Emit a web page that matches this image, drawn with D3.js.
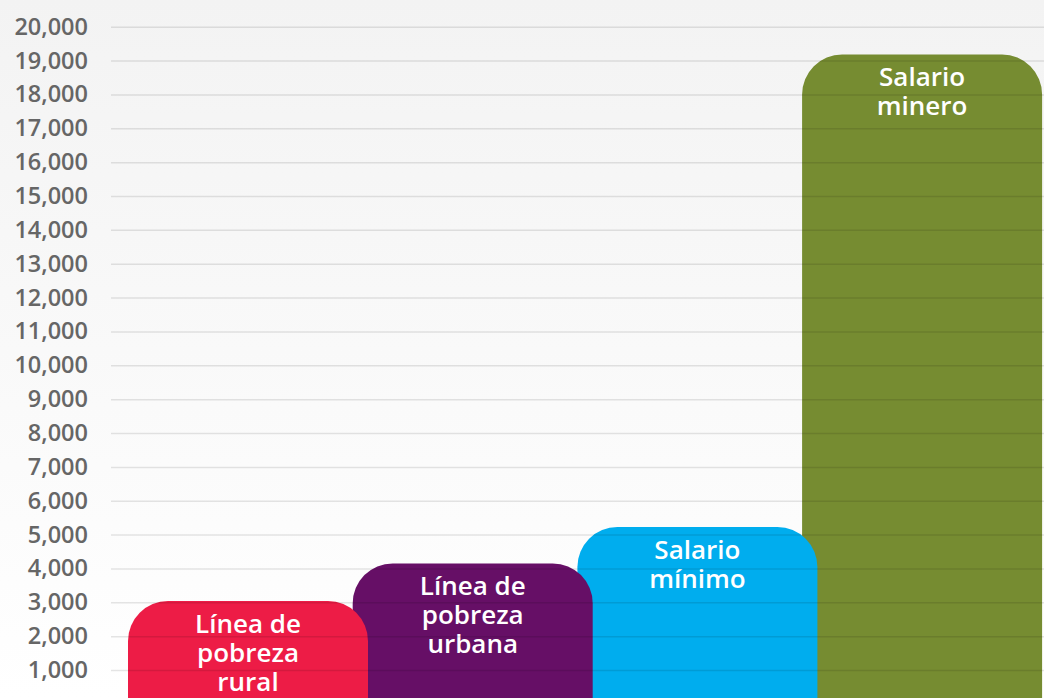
<!DOCTYPE html>
<html><head><meta charset="utf-8">
<script src="https://cdn.jsdelivr.net/npm/d3@7"></script>
<style>
html,body{margin:0;padding:0;overflow:hidden;}
svg{display:block;font-family:"Open Sans",sans-serif;}
</style></head>
<body>
<svg id="chart" width="1044" height="698"></svg>
<script>
const categories = ["rural", "urbana", "minimo", "minero"];
const values = [3040, 4150, 5225, 19180];
const labels = [["Línea de", "pobreza", "rural"], ["Línea de", "pobreza", "urbana"], ["Salario", "mínimo"], ["Salario", "minero"]];
const colors = ["#ed1c46", "#660f66", "#00adee", "#768c31"];
const tickValues = d3.range(1000, 20001, 1000);

const W = 1044, H = 698;
const svg = d3.select("#chart");
const defs = svg.append("defs");
const grad = defs.append("linearGradient").attr("id", "bg").attr("x1", 0).attr("y1", 0).attr("x2", 0).attr("y2", 1);
grad.append("stop").attr("offset", "0%").attr("stop-color", "#f3f3f3");
grad.append("stop").attr("offset", "100%").attr("stop-color", "#ffffff");
svg.append("rect").attr("width", W).attr("height", H).attr("fill", "url(#bg)");

const y = d3.scaleLinear().domain([0, 20000]).range([703.9, 26.7]);
const x = d3.scaleBand().domain(categories).range([128, 128 + 4 * 224.7]).padding(0);
const barW = x.bandwidth() + 15.3;
const r = 40;

function topRounded(x0, y0, w, yb, r) {
  const p = d3.path();
  p.moveTo(x0, yb);
  p.lineTo(x0, y0 + r);
  p.arcTo(x0, y0, x0 + r, y0, r);
  p.lineTo(x0 + w - r, y0);
  p.arcTo(x0 + w, y0, x0 + w, y0 + r, r);
  p.lineTo(x0 + w, yb);
  p.closePath();
  return p.toString();
}

const data = categories.map((c, i) => ({c, v: values[i], label: labels[i], color: colors[i]}));

// draw in reverse order so earlier bars are on top
const bars = svg.append("g").selectAll("g").data(data.slice().reverse()).join("g");
bars.append("path")
  .attr("d", d => topRounded(x(d.c), y(d.v), barW, H + 10, r))
  .attr("fill", d => d.color);
bars.append("text")
  .attr("text-anchor", "middle")
  .attr("fill", "#fff")
  .attr("font-size", 26)
  .attr("font-weight", 600)
  .selectAll("tspan").data(d => d.label.map((t, j) => ({t, j, d}))).join("tspan")
  .attr("x", o => x(o.d.c) + barW / 2)
  .attr("y", o => y(o.d.v) + 32 + o.j * 29)
  .text(o => o.t);

// grid lines on top
const axis = d3.axisLeft(y).tickValues(tickValues).tickSize(-(W - 111)).tickFormat(d3.format(","));
const g = svg.append("g").attr("transform", "translate(111,0)").call(axis);
g.select(".domain").remove();
g.selectAll(".tick line").attr("stroke", "rgba(0,0,0,0.1)").attr("stroke-width", 1.5);
g.selectAll(".tick text").attr("x", -23).attr("fill", "#666").attr("font-size", 23.5).attr("font-weight", 600)
  .attr("font-family", "'Open Sans', sans-serif");
</script>
</body></html>
